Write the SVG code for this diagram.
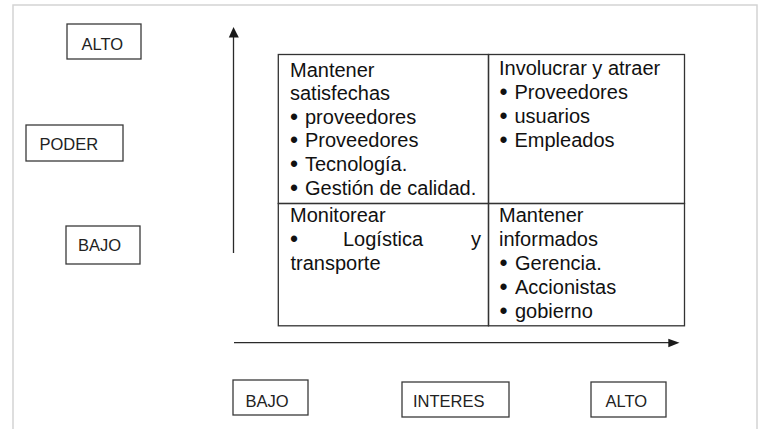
<svg xmlns="http://www.w3.org/2000/svg" width="758" height="429" viewBox="0 0 758 429">
<style>
.frame{fill:none;stroke:#d4d4d4;stroke-width:1.5}
.box{fill:#ffffff;stroke:#3a3a3a;stroke-width:1.3}
.lbl{font-family:"Liberation Sans",Arial,sans-serif;font-size:16.5px;fill:#222}
.cell{fill:none;stroke:#333;stroke-width:1.3}
.t{font-family:"Liberation Sans",Arial,sans-serif;font-size:20px;fill:#111}
.b{font-size:23px}
.ax{stroke:#2a2a2a;stroke-width:1.3;fill:none}
.head{fill:#1a1a1a}
</style>
<rect x="0" y="0" width="758" height="429" fill="#ffffff"/>
<path class="frame" d="M13,429 V5 H757 V429"/>

<g id="alto-poder">
<rect class="box" x="67" y="24" width="74" height="35"/>
<text class="lbl" x="81.5" y="49.5">ALTO</text>
</g>
<g id="poder">
<rect class="box" x="26" y="125" width="97" height="36"/>
<text class="lbl" x="39.5" y="149.5">PODER</text>
</g>
<g id="bajo-poder">
<rect class="box" x="66" y="226" width="74" height="38"/>
<text class="lbl" x="78" y="251">BAJO</text>
</g>
<g id="bajo-interes">
<rect class="box" x="233" y="380" width="75" height="35"/>
<text class="lbl" x="245.5" y="406.5">BAJO</text>
</g>
<g id="interes">
<rect class="box" x="402" y="382" width="107" height="35"/>
<text class="lbl" x="413" y="406.5">INTERES</text>
</g>
<g id="alto-interes">
<rect class="box" x="591" y="382" width="75" height="35"/>
<text class="lbl" x="605.5" y="406.5">ALTO</text>
</g>

<g id="connectors">
<line class="ax" x1="233.5" y1="253" x2="233.5" y2="36"/>
<polygon class="head" points="233.5,27 228.8,37.5 238.8,37.5"/>
<line class="ax" x1="234" y1="342.7" x2="670" y2="342.7"/>
<polygon class="head" points="679.5,342.7 668.3,338.8 668.3,347.2"/>
</g>

<g id="q-mantener-satisfechas">
<rect class="cell" x="278.3" y="54.5" width="210.2" height="149"/>
<text class="t" x="290" y="76.5">Mantener</text>
<text class="t" x="290" y="100.2">satisfechas</text>
<text class="t" y="123.8"><tspan class="b" x="290" dy="1">•</tspan><tspan x="305" dy="-1">proveedores</tspan></text>
<text class="t" y="147.4"><tspan class="b" x="290" dy="1">•</tspan><tspan x="305" dy="-1">Proveedores</tspan></text>
<text class="t" y="171"><tspan class="b" x="290" dy="1">•</tspan><tspan x="305" dy="-1">Tecnología.</tspan></text>
<text class="t" y="194.8"><tspan class="b" x="290" dy="1">•</tspan><tspan x="305" dy="-1">Gestión de calidad.</tspan></text>
</g>
<g id="q-involucrar-atraer">
<rect class="cell" x="488.5" y="54.5" width="196" height="149"/>
<text class="t" x="499" y="75">Involucrar y atraer</text>
<text class="t" y="99"><tspan class="b" x="499.5" dy="1">•</tspan><tspan x="514.5" dy="-1">Proveedores</tspan></text>
<text class="t" y="123"><tspan class="b" x="499.5" dy="1">•</tspan><tspan x="514.5" dy="-1">usuarios</tspan></text>
<text class="t" y="147"><tspan class="b" x="499.5" dy="1">•</tspan><tspan x="514.5" dy="-1">Empleados</tspan></text>
</g>
<g id="q-monitorear">
<rect class="cell" x="278.3" y="203.5" width="210.2" height="122.3"/>
<text class="t" x="290" y="221.7">Monitorear</text>
<text class="t" y="245.7"><tspan class="b" x="290" dy="1">•</tspan><tspan x="343" dy="-1">Logística</tspan><tspan x="471">y</tspan></text>
<text class="t" x="290.5" y="269.5">transporte</text>
</g>
<g id="q-mantener-informados">
<rect class="cell" x="488.5" y="203.5" width="196" height="122.3"/>
<text class="t" x="499" y="221.7">Mantener</text>
<text class="t" x="499" y="245.7">informados</text>
<text class="t" y="269.5"><tspan class="b" x="499.5" dy="1">•</tspan><tspan x="515" dy="-1">Gerencia.</tspan></text>
<text class="t" y="293.8"><tspan class="b" x="499.5" dy="1">•</tspan><tspan x="515" dy="-1">Accionistas</tspan></text>
<text class="t" y="317.7"><tspan class="b" x="499.5" dy="1">•</tspan><tspan x="515" dy="-1">gobierno</tspan></text>
</g>
</svg>
